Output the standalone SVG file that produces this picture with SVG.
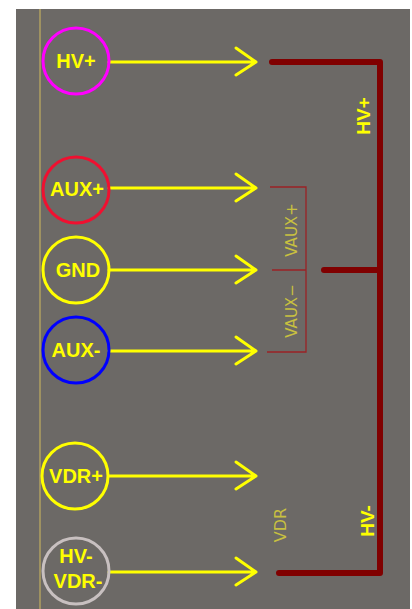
<svg xmlns="http://www.w3.org/2000/svg" width="412" height="609" viewBox="0 0 412 609">
<style>
.lbl{font-family:"Liberation Sans",Arial,sans-serif;font-weight:bold;font-size:20px;fill:#ffff00;text-anchor:middle}
.pin{fill:none;stroke-width:3}
.arr{stroke:#ffff00;stroke-width:3;fill:none;stroke-linecap:round;stroke-linejoin:round}
.bus{stroke:#800000;stroke-width:6;fill:none;stroke-linecap:round;stroke-linejoin:round}
.thin{stroke:#9b2226;stroke-width:1.3;fill:none}
.silk{font-family:"DejaVu Sans",sans-serif;font-size:15px;fill:#c8c040;text-anchor:middle}
.net{font-family:"Liberation Sans",Arial,sans-serif;font-weight:bold;font-size:19px;fill:#ffff00;text-anchor:middle}
</style>
<rect x="0" y="0" width="412" height="609" fill="#ffffff"/>
<rect x="16" y="9" width="394" height="600" fill="#6c6966"/>
<line x1="40" y1="9" x2="40" y2="609" stroke="#b0a060" stroke-width="1.5"/>
<g id="connectors">
<path class="arr" d="M109 62H256M236 48L256 62L236 75"/>
<path class="arr" d="M109 188H256M236 174L256 188L236 201"/>
<path class="arr" d="M109 270H256M236 256L256 270L236 283"/>
<path class="arr" d="M109 351H256M236 337L256 351L236 364"/>
<path class="arr" d="M109 476H256M236 462L256 476L236 489"/>
<path class="arr" d="M109 572H256M236 558L256 572L236 585"/>
</g>
<g id="bus">
<path class="bus" d="M272 62H380V573H279"/>
<path class="bus" d="M324 270H380"/>
<path class="thin" d="M270 187H306V352H267M272 270H306"/>
<text class="silk" transform="translate(297 230) rotate(-90)">VAUX+</text>
<text class="silk" transform="translate(297 311) rotate(-90)">VAUX−</text>
<text class="silk" transform="translate(286 525) rotate(-90)" style="font-size:16px">VDR</text>
<text class="net" transform="translate(370 116) rotate(-90)">HV+</text>
<text class="net" transform="translate(374 521) rotate(-90)">HV-</text>
</g>
<g id="hvp"><circle class="pin" cx="76" cy="61" r="33" stroke="#ff00ff"/><text class="lbl" x="76" y="68">HV+</text></g>
<g id="auxp"><circle class="pin" cx="76" cy="190" r="33" stroke="#f01030"/><text class="lbl" x="77" y="196">AUX+</text></g>
<g id="gnd"><circle class="pin" cx="76" cy="270" r="33" stroke="#ffff00"/><text class="lbl" x="78" y="277">GND</text></g>
<g id="auxm"><circle class="pin" cx="76" cy="350" r="33" stroke="#0000ff"/><text class="lbl" x="76" y="357">AUX-</text></g>
<g id="vdrp"><circle class="pin" cx="75" cy="476" r="33" stroke="#ffff00"/><text class="lbl" x="76" y="483">VDR+</text></g>
<g id="hvm"><circle class="pin" cx="76" cy="571" r="33" stroke="#c8c0c0"/><text class="lbl" x="76" y="563">HV-</text><text class="lbl" x="78" y="588">VDR-</text></g>
</svg>
